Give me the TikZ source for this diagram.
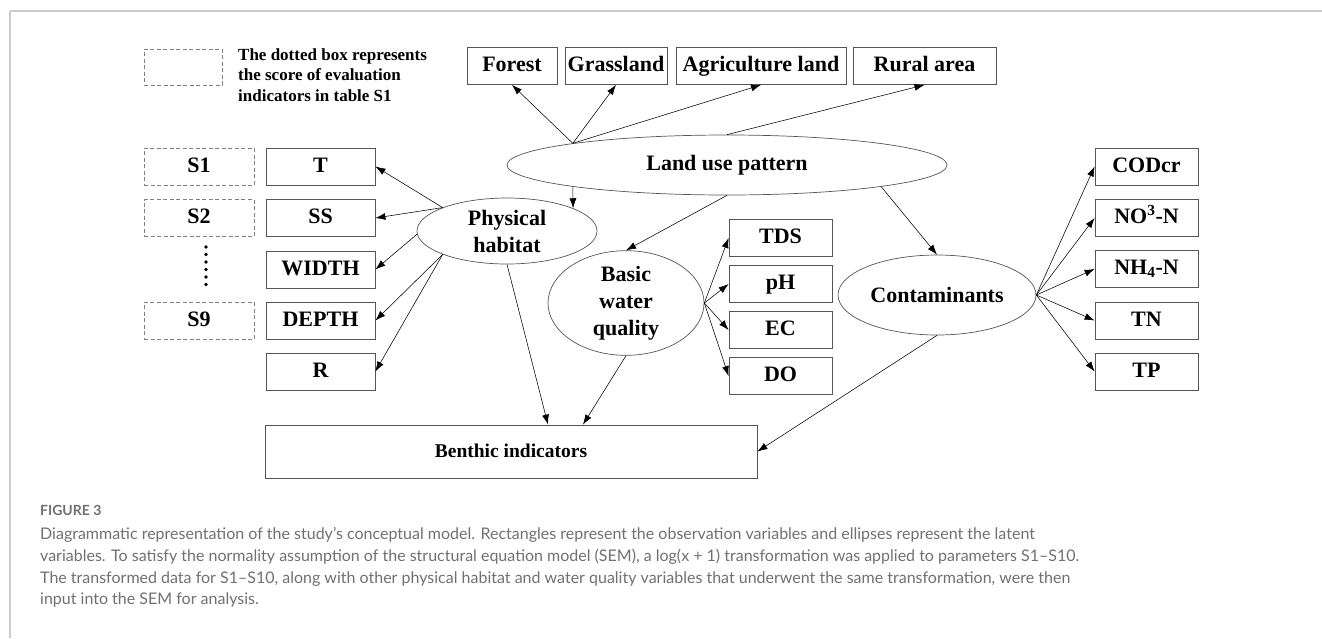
\documentclass[tikz,border=0pt]{standalone}
\usepackage{fontspec}
\setmainfont{Liberation Serif}
\newfontfamily\capfont{Lato}
\usetikzlibrary{shapes.geometric,arrows.meta,calc}
\definecolor{boxgray}{HTML}{555555}
\definecolor{framegray}{HTML}{CCCCCC}
\definecolor{captgray}{HTML}{707070}
\begin{document}
\begin{tikzpicture}[x=1pt,y=-1pt,
  obs/.style={draw=boxgray, line width=0.8pt, minimum width=#1, minimum height=37pt, inner sep=0pt,
    font=\bfseries\fontsize{22}{26}\selectfont, text height=15pt, text depth=4pt},
  obs/.default=109pt,
  sbox/.style={draw=gray, line width=0.7pt, dash pattern=on 4pt off 2.5pt, minimum width=110pt, minimum height=37pt, inner sep=0pt,
    font=\bfseries\fontsize{22}{26}\selectfont, text height=15pt, text depth=4pt},
  lat/.style={ellipse, draw=boxgray, line width=0.7pt, inner sep=0pt, align=center,
    font=\bfseries\fontsize{22}{27}\selectfont},
  arr/.style={-{Latex[length=10pt,width=7pt]}, line width=0.55pt, black},
  legtxt/.style={anchor=base west, inner sep=0pt, font=\bfseries\fontsize{17}{20}\selectfont},
  captxt/.style={anchor=base west, inner sep=0pt, text=captgray, font=\capfont\fontsize{16}{22}\selectfont}
]
\useasboundingbox (0,0) rectangle (1322,638);
% frame lines
\draw[framegray, line width=1.2pt] (10,11) -- (1322,11);
\draw[framegray, line width=1.2pt] (10,11) -- (10,638);

% legend
\node[sbox, minimum width=78pt, minimum height=36pt] (leg) at (183,67) {};
\node[legtxt] (leg1) at (238,60) {The dotted box represents};
\node[legtxt] (leg2) at (238,80.5) {the score of evaluation};
\node[legtxt] (leg3) at (238,101) {indicators in table S1};

% top boxes
\node[obs=90pt] (forest) at (512,66) {Forest};
\node[obs=102pt] (grass) at (616,66) {Grassland};
\node[obs=170pt] (agri) at (761,66) {Agriculture land};
\node[obs=143pt] (rural) at (924.5,66) {Rural area};

% latent variables
\node[lat, minimum width=440pt, minimum height=60pt] (lup) at (727,165) {Land use pattern};
\node[lat, minimum width=180pt, minimum height=66pt] (phys) at (507,231) {Physical\\habitat};
\node[lat, minimum width=156pt, minimum height=104pt] (bwq) at (626,303) {Basic\\water\\quality};
\node[lat, minimum width=198pt, minimum height=80pt] (cont) at (937,295) {Contaminants};

% S column
\node[sbox] (s1) at (199,166.5) {S1};
\node[sbox] (s2) at (199,218) {S2};
\node[sbox] (s9) at (199,320.5) {S9};
\foreach \yy in {247,254.5,262,269.5,277,284.5}
  \fill (206,\yy) circle (1.8pt);

% physical habitat indicators
\node[obs] (t) at (320.5,166.5) {T};
\node[obs] (ss) at (320.5,218) {SS};
\node[obs] (width) at (320.5,269.5) {WIDTH};
\node[obs] (depth) at (320.5,320.5) {DEPTH};
\node[obs] (r) at (320.5,371.5) {R};

% water quality indicators
\node[obs=103pt] (tds) at (780.5,238) {TDS};
\node[obs=103pt] (ph) at (780.5,284) {pH};
\node[obs=103pt] (ec) at (780.5,330) {EC};
\node[obs=103pt] (do) at (780.5,376) {DO};

% contaminant indicators
\node[obs=103pt] (cod) at (1146.5,166.5) {CODcr};
\node[obs=103pt] (no3) at (1146.5,218) {NO\textsuperscript{3}-N};
\node[obs=103pt] (nh4) at (1146.5,269) {NH$_{\mathbf{4}}$-N};
\node[obs=103pt] (tn) at (1146.5,320.5) {TN};
\node[obs=103pt] (tp) at (1146.5,371.5) {TP};

% benthic
\node[obs=492pt, minimum height=53pt, font=\bfseries\fontsize{19.5}{24}\selectfont] (ben) at (511,451.5) {Benthic indicators};

% arrows from land use
\draw[arr] (lup.172) -- (forest.south);
\draw[arr] (lup.172) -- (grass.south);
\draw[arr] (lup.172) -- (agri.south);
\draw[arr] (lup.90) -- (rural.south);
\draw[arr] (lup.188) -- (phys.19.5);
\draw[arr] (lup.south) -- (bwq.north);
\draw[arr] (lup.352) -- (cont.north);

% physical habitat arrows
\draw[arr] (phys.160) -- (t.east);
\draw[arr] (phys.160) -- (ss.east);
\draw[arr] (phys.182) -- (width.east);
\draw[arr] (phys.200) -- (depth.east);
\draw[arr] (phys.200) -- (r.east);
\draw[arr] (phys.south) -- ([xshift=37pt]ben.north);

% basic water quality arrows
\draw[arr] (bwq.east) -- (tds.west);
\draw[arr] (bwq.east) -- (ph.west);
\draw[arr] (bwq.east) -- (ec.west);
\draw[arr] (bwq.east) -- (do.west);
\draw[arr] (bwq.south) -- ([xshift=72pt]ben.north);

% contaminants arrows
\draw[arr] (cont.east) -- (cod.west);
\draw[arr] (cont.east) -- (no3.west);
\draw[arr] (cont.east) -- (nh4.west);
\draw[arr] (cont.east) -- (tn.west);
\draw[arr] (cont.east) -- (tp.west);
\draw[arr] (cont.south) -- (ben.east);

% caption
\node[anchor=base west, inner sep=0pt, text=captgray, font=\capfont\bfseries\fontsize{14}{16}\selectfont] (fig) at (40,515) {FIGURE 3};
\node[captxt] (c1) at (40,539) {Diagrammatic representation of the study’s conceptual model. Rectangles represent the observation variables and ellipses represent the latent};
\node[captxt] (c2) at (40,561) {variables. To satisfy the normality assumption of the structural equation model (SEM), a log(x + 1) transformation was applied to parameters S1–S10.};
\node[captxt] (c3) at (40,583) {The transformed data for S1–S10, along with other physical habitat and water quality variables that underwent the same transformation, were then};
\node[captxt] (c4) at (40,604) {input into the SEM for analysis.};
\end{tikzpicture}
\end{document}
